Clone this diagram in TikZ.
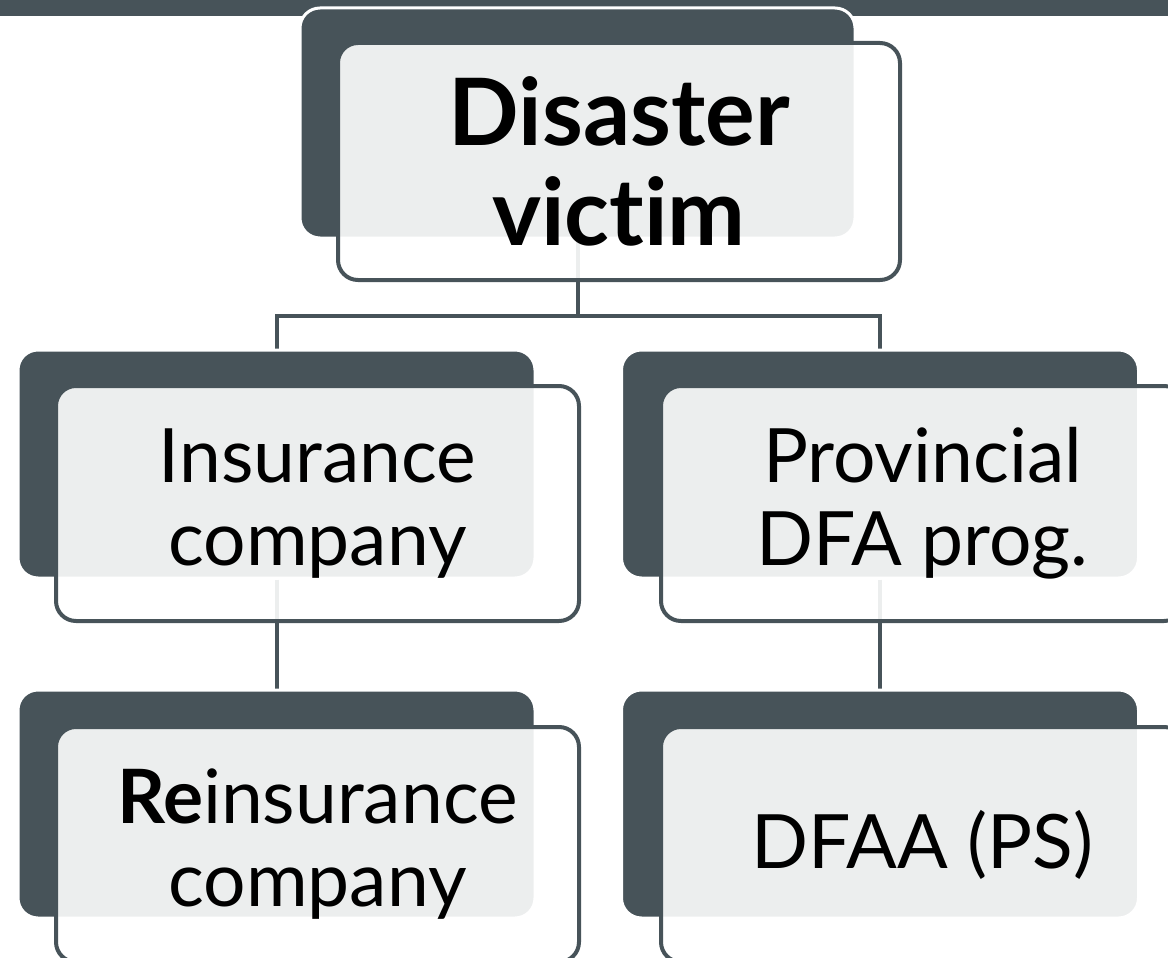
\documentclass[tikz,border=0pt]{standalone}
\usepackage{fontspec}
\setmainfont{Lato}[Ligatures={NoCommon}]
\usetikzlibrary{backgrounds}
\definecolor{slate}{HTML}{475359}
\tikzset{
  backbox/.style={draw=white, line width=3pt, fill=slate, rounded corners=20pt, inner sep=0pt},
  frontbox/.style={draw=slate, line width=4pt, fill=white, fill opacity=0.9, text opacity=1,
    rounded corners=20pt, inner sep=0pt, align=center, text=black},
  link/.style={draw=slate, line width=4pt},
  bigtext/.style={font=\fontsize{93}{100}\selectfont\bfseries},
  midtext/.style={font=\fontsize{75}{83}\selectfont},
}
\begin{document}
\begin{tikzpicture}[x=1pt, y=-1pt]
\useasboundingbox (0,0) rectangle (1168,958);

% back panels
\node[backbox, minimum width=555pt, minimum height=230pt] (vicB) at (577.5,123) {};
\node[backbox, minimum width=517pt, minimum height=228pt] (insB) at (276.5,464) {};
\node[backbox, minimum width=517pt, minimum height=228pt] (provB) at (880,464) {};
\node[backbox, minimum width=517pt, minimum height=228pt] (reB) at (276.5,804) {};
\node[backbox, minimum width=517pt, minimum height=228pt] (dfaaB) at (880,804) {};

% front cards with the labels
\node[frontbox, minimum width=562pt, minimum height=237pt, bigtext] (vic) at (619,161.5) {Disaster\\victim};
\node[frontbox, midtext, minimum width=523pt, minimum height=235pt] (ins) at (317.5,503.5) {Insurance\\company};
\node[frontbox, midtext, minimum width=523pt, minimum height=235pt] (prov) at (922.5,503.5) {Provincial\\DFA prog.};
\node[frontbox, midtext, minimum width=523pt, minimum height=235pt] (re) at (317.5,844.5) {\textbf{Re}insurance\\company};
\node[frontbox, midtext, minimum width=523pt, minimum height=235pt] (dfaa) at (922.5,844.5) {DFAA (PS)};

% header band and connectors, kept behind the panels
\coordinate (bus) at (577.5,316);
\begin{scope}[on background layer]
  \fill[slate] (0,0) rectangle (1168,16);
  \draw[link] (vicB.south) -- (bus) -| (insB.north);
  \draw[link] (bus) -| (provB.north);
  \draw[link] (insB.south) -- (reB.north);
  \draw[link] (provB.south) -- (dfaaB.north);
\end{scope}
\end{tikzpicture}
\end{document}
